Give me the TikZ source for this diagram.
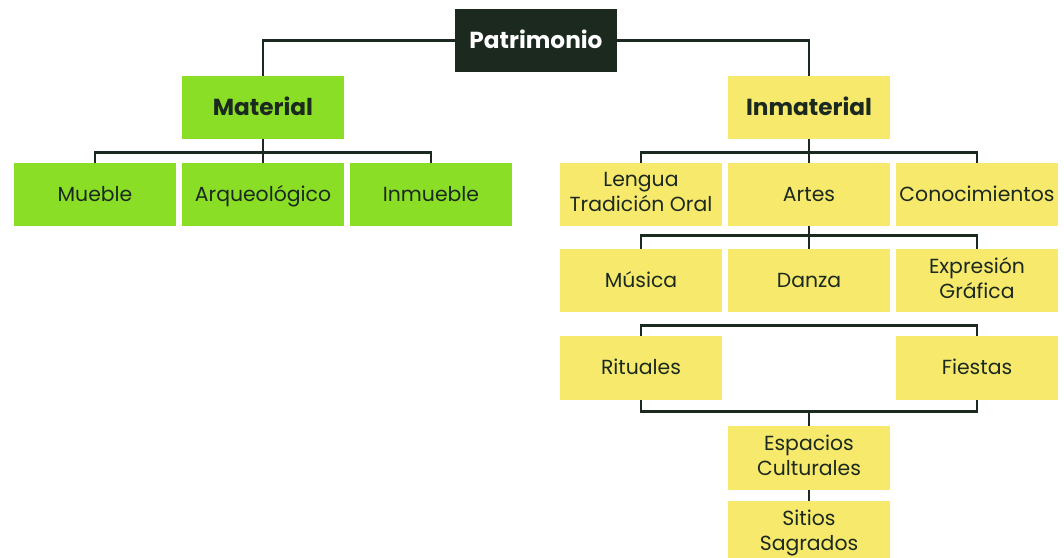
\documentclass[tikz,border=0pt]{standalone}
\usepackage{fontspec}
\setmainfont{Poppins}
\usetikzlibrary{positioning}
\definecolor{darkgreen}{HTML}{1B291F}
\definecolor{leafgreen}{HTML}{8ADE25}
\definecolor{softyellow}{HTML}{F6E96C}

\begin{document}
\begin{tikzpicture}[x=0.025cm, y=-0.025cm,
  box/.style={minimum width=4.05cm, minimum height=1.575cm, inner sep=0pt,
    align=center, text=darkgreen, font=\fontsize{14.5}{16.5}\selectfont,
    execute at begin node=\vphantom{Áy}},
  rootbox/.style={box, fill=darkgreen, text=white, font=\fontsize{16.5}{18}\selectfont\bfseries},
  headgreen/.style={box, fill=leafgreen, font=\fontsize{16.5}{18}\selectfont\bfseries},
  headyellow/.style={box, fill=softyellow, font=\fontsize{16.5}{18}\selectfont\bfseries},
  greenbox/.style={box, fill=leafgreen},
  yellowbox/.style={box, fill=softyellow},
  link/.style={draw=darkgreen, line width=2pt}]
  \useasboundingbox (0,0) rectangle (1064,558);
  \clip (0,0) rectangle (1064,558);
  \node[rootbox] (patr) at (536,40.5) {Patrimonio};
  \node[headgreen] (mat) at (263,107.5) {Material};
  \node[headyellow] (inmat) at (809,107.5) {Inmaterial};
  \node[greenbox] (mueb) at (95,194.5) {Mueble};
  \node[greenbox] (arq) at (263,194.5) {Arqueológico};
  \node[greenbox] (inmu) at (431,194.5) {Inmueble};
  \node[yellowbox] (lengua) at (641,194.5) {Lengua\\[1.5pt]Tradición Oral};
  \node[yellowbox] (artes) at (809,194.5) {Artes};
  \node[yellowbox] (conoc) at (977,194.5) {Conocimientos};
  \node[yellowbox] (musica) at (641,280.5) {Música};
  \node[yellowbox] (danza) at (809,280.5) {Danza};
  \node[yellowbox] (expr) at (977,280.5) {Expresión\\[1.5pt]Gráfica};
  \node[yellowbox] (ritu) at (641,368) {Rituales};
  \node[yellowbox] (fies) at (977,368) {Fiestas};
  \node[yellowbox] (esp) at (809,458) {Espacios\\[1.5pt]Culturales};
  \node[yellowbox] (sit) at (809,533) {Sitios\\[1.5pt]Sagrados};
  \draw[link] (patr.west) -| (mat.north);
  \draw[link] (patr.east) -| (inmat.north);
  \draw[link] (mueb.north) -- ++(0,-10) -| (inmu.north);
  \draw[link] (mat.south) -- (arq.north);
  \draw[link] (lengua.north) -- ++(0,-10) -| (conoc.north);
  \draw[link] (inmat.south) -- (artes.north);
  \draw[link] (musica.north) -- ++(0,-13) -| (expr.north);
  \draw[link] (artes.south) -- (danza.north);
  \draw[link] (ritu.north) -- ++(0,-11) -| (fies.north);
  \draw[link] (ritu.south) -- ++(0,12) coordinate (join) -| (fies.south);
  \draw[link] (esp.north) -- (esp.north |- join);
  \draw[link] (esp.south) -- (sit.north);
\end{tikzpicture}
\end{document}
